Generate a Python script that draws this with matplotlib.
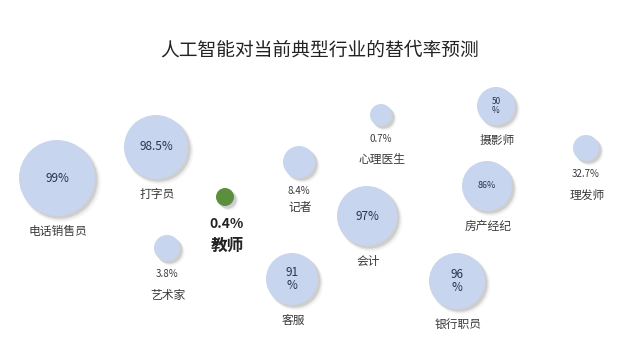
import matplotlib
matplotlib.use("Agg")
import matplotlib.pyplot as plt
import numpy as np

plt.rcParams['font.family'] = ['Noto Sans CJK SC', 'DejaVu Sans']

title = "人工智能对当前典型行业的替代率预测"
jobs = ["电话销售员", "打字员", "教师", "艺术家", "记者", "客服", "心理医生",
        "会计", "银行职员", "摄影师", "房产经纪", "理发师"]
rates = ["99%", "98.5%", "0.4%", "3.8%", "8.4%", "91\n%", "0.7%",
         "97%", "96\n%", "50\n%", "86%", "32.7%"]
x = [57, 156, 225, 167, 299, 292, 381, 367, 457, 496, 487, 586]
y = [178, 147, 197, 248, 162, 279, 115, 216, 281, 106, 186, 148]
bubble = [38, 32, 9, 13, 16, 26, 11, 30, 28, 19, 25, 13]
inside = [True, True, False, False, False, True, False, True, True, True, True, False]

fig = plt.figure(figsize=(6.4, 3.6), dpi=100)
ax = fig.add_axes([0, 0, 1, 1])
ax.set_xlim(0, 640)
ax.set_ylim(360, 0)
ax.axis('off')

r = np.array(bubble, dtype=float)
s = (2 * r * 72 / 100) ** 2
xa = np.array(x, dtype=float)
ya = np.array(y, dtype=float)

colors = ['#5b8f3e' if j == "教师" else '#c8d5ef' for j in jobs]

# soft shadow
for off, a, grow in [(4, 0.08, 1.10), (3, 0.14, 1.05), (2.5, 0.22, 1.0)]:
    ax.scatter(xa + off, ya + off, s=s * grow, color='#808080', alpha=a,
               linewidths=0, zorder=1)
ax.scatter(xa, ya, s=s, c=colors, linewidths=0, zorder=2)

tc = '#3a3a3a'
for j, rt, xi, yi, ri, ins in zip(jobs, rates, xa, ya, r, inside):
    if j == "教师":
        ax.text(xi + 2, yi + 27, rt, ha='center', va='center', fontsize=10,
                fontweight='bold', color='#222222', zorder=5)
        ax.text(xi + 2, yi + 49, j, ha='center', va='center', fontsize=12,
                fontweight='bold', color='#222222', zorder=5)
        continue
    if ins:
        fs = 8.5 if ri >= 28 else 6.5
        if "\n" in rt:
            fs = 8.5 if ri >= 26 else 6
        ax.text(xi, yi, rt, ha='center', va='center', fontsize=fs,
                color='#2a3550', zorder=5, linespacing=1.0,
                fontweight='medium' if ri >= 26 else 'normal')
        ax.text(xi + 1, yi + ri + 15, j, ha='center', va='center',
                fontsize=8.5, color=tc, zorder=5)
    else:
        gap = 16 if j == "记者" else 21
        ax.text(xi, yi + ri + 13, rt, ha='center', va='center', fontsize=7,
                color=tc, zorder=5)
        ax.text(xi + 1, yi + ri + 13 + gap, j, ha='center', va='center',
                fontsize=8.5, color=tc, zorder=5)

ax.text(320, 50, title, ha='center', va='center', fontsize=13.5,
        color='#222222')

fig.savefig("out.png", dpi=100)
